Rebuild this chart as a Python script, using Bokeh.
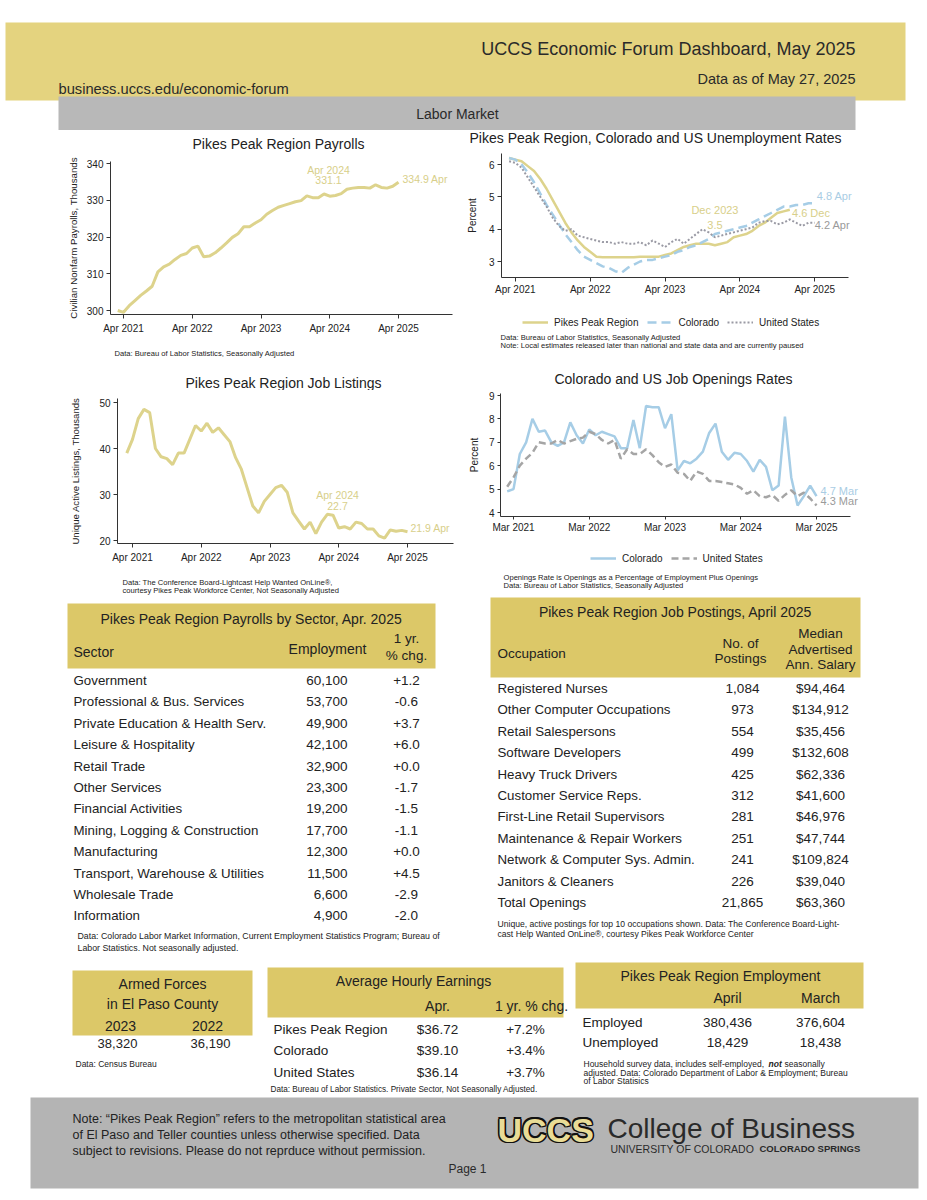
from bokeh.plotting import figure
from bokeh.models import Range1d, Label, Legend, LegendItem, FixedTicker, ColumnDataSource
from bokeh.layouts import column, row
from bokeh.embed import file_html
from bokeh.resources import INLINE
from bokeh.core.properties import value

FONT = "Liberation Sans"
INK = "#222222"
YEL_LINE = "#ddd38c"
YEL_TXT = "#d8cf8a"
BLUE_LINE = "#a6cde6"
BLUE_TXT = "#a9cde4"
GRAY_DOT = "#9a9aa4"
GRAY_DASH = "#a5a5a5"
GRAY_TXT = "#9a9a9a"
BAND = "#e4d37f"
HEAD = "#dcc868"
GRAYBAR = "#b8b8b8"
FOOT = "#b4b4b4"

MONTHS = ["Jan", "Feb", "Mar", "Apr", "May", "Jun", "Jul", "Aug", "Sep", "Oct", "Nov", "Dec"]


def midx(lbl):
    mo, yr = lbl.split()
    return (int(yr) - 2021) * 12 + MONTHS.index(mo)


# ---------------- data ----------------
payroll_start = "Mar 2021"
payroll = [300.0, 299.5, 301.3, 302.7, 304.1, 305.3, 306.6, 310.5, 311.9, 312.6,
           313.9, 315.0, 315.5, 317.0, 317.5, 314.6, 314.8, 315.7, 317.0, 318.4,
           319.9, 320.9, 322.8, 322.8, 323.8, 324.7, 326.2, 327.2, 328.1, 328.6,
           329.1, 329.6, 329.9, 331.2, 330.7, 330.7, 331.7, 331.1, 331.3, 331.8,
           333.0, 333.3, 333.5, 333.5, 333.3, 334.2, 333.5, 333.3, 333.8, 334.9]
payroll_ticks = ["Apr 2021", "Apr 2022", "Apr 2023", "Apr 2024", "Apr 2025"]
payroll_yticks = [300, 310, 320, 330, 340]

unemp_start = "Mar 2021"
unemp_pp = [6.2, 6.15, 6.1, 5.95, 5.8, 5.55, 5.25, 4.9, 4.55, 4.2, 3.9, 3.65, 3.45, 3.3,
            3.15, 3.13, 3.13, 3.13, 3.13, 3.13, 3.13, 3.15, 3.15, 3.15, 3.15, 3.2, 3.25,
            3.35, 3.45, 3.5, 3.55, 3.55, 3.55, 3.5, 3.55, 3.6, 3.75, 3.8, 3.85, 3.95,
            4.1, 4.2, 4.35, 4.5, 4.55, 4.6]
unemp_co = [6.2, 6.15, 6.0, 5.75, 5.45, 5.1, 4.75, 4.45, 4.15, 3.85, 3.6, 3.35, 3.15,
            3.05, 2.95, 2.85, 2.8, 2.7, 2.65, 2.8, 2.9, 3.0, 3.05, 3.05, 3.1, 3.15, 3.2,
            3.3, 3.35, 3.45, 3.5, 3.6, 3.7, 3.85, 3.9, 3.95, 4.0, 4.05, 4.1, 4.2, 4.3,
            4.4, 4.5, 4.6, 4.7, 4.7, 4.75, 4.75, 4.8, 4.8]
unemp_us = [6.1, 6.05, 5.9, 5.6, 5.3, 5.0, 4.7, 4.35, 4.1, 3.95, 4.0, 3.8, 3.75, 3.7,
            3.65, 3.6, 3.6, 3.55, 3.6, 3.55, 3.55, 3.6, 3.5, 3.65, 3.55, 3.45, 3.6, 3.7,
            3.55, 3.7, 3.85, 4.0, 3.9, 3.75, 3.8, 3.85, 3.9, 3.95, 4.0, 4.05, 4.2, 4.25,
            4.25, 4.15, 4.2, 4.3, 4.2, 4.1, 4.2, 4.2]
unemp_ticks = ["Apr 2021", "Apr 2022", "Apr 2023", "Apr 2024", "Apr 2025"]
unemp_yticks = [3, 4, 5, 6]
unemp_names = ["Pikes Peak Region", "Colorado", "United States"]

listings_start = "Mar 2021"
listings = [39.0, 42.0, 46.5, 48.5, 47.8, 40.0, 38.2, 37.8, 36.5, 39.0, 39.0, 42.0,
            45.0, 43.8, 45.5, 43.5, 44.5, 43.0, 41.5, 38.0, 35.5, 31.5, 27.5, 26.0,
            28.5, 30.0, 31.5, 32.0, 30.5, 26.0, 24.2, 22.5, 24.0, 21.5, 24.0, 25.7,
            25.5, 22.7, 23.0, 22.5, 24.0, 23.7, 22.5, 22.5, 21.0, 20.5, 22.3, 22.0,
            22.2, 21.9]
listings_ticks = ["Apr 2021", "Apr 2022", "Apr 2023", "Apr 2024", "Apr 2025"]
listings_yticks = [20, 30, 40, 50]

openings_start = "Feb 2021"
open_co = [4.9, 5.0, 6.5, 7.0, 8.0, 7.45, 7.5, 7.0, 6.85, 7.0, 7.85, 7.3, 6.95, 7.55,
           7.3, 7.45, 7.35, 7.25, 6.75, 6.75, 7.95, 6.75, 8.55, 8.5, 8.5, 7.6, 8.2, 5.8,
           6.2, 6.1, 6.3, 6.6, 7.4, 7.8, 6.6, 6.25, 6.55, 6.5, 6.2, 5.75, 6.25, 5.95,
           4.95, 5.15, 8.1, 5.5, 4.3, 4.7, 5.15, 4.7]
open_us = [5.1, 5.5, 6.0, 6.3, 6.55, 7.0, 6.95, 6.95, 7.1, 6.95, 7.05, 7.15, 7.2, 7.45,
           7.35, 7.1, 6.95, 7.1, 6.3, 6.7, 6.5, 6.5, 6.7, 6.45, 6.15, 5.95, 6.05, 5.7,
           5.65, 5.35, 5.75, 5.65, 5.35, 5.35, 5.3, 5.25, 5.2, 5.05, 4.8, 4.95, 4.7,
           4.65, 4.75, 4.5, 4.75, 4.95, 4.7, 4.85, 4.6, 4.3]
openings_ticks = ["Mar 2021", "Mar 2022", "Mar 2023", "Mar 2024", "Mar 2025"]
openings_yticks = [4, 5, 6, 7, 8, 9]
openings_names = ["Colorado", "United States"]

sectors = ["Government", "Professional & Bus. Services", "Private Education & Health Serv.",
           "Leisure & Hospitality", "Retail Trade", "Other Services", "Financial Activities",
           "Mining, Logging & Construction", "Manufacturing", "Transport, Warehouse & Utilities",
           "Wholesale Trade", "Information"]
sector_emp = [60100, 53700, 49900, 42100, 32900, 23300, 19200, 17700, 12300, 11500, 6600, 4900]
sector_chg = [1.2, -0.6, 3.7, 6.0, 0.0, -1.7, -1.5, -1.1, 0.0, 4.5, -2.9, -2.0]

occupations = ["Registered Nurses", "Other Computer Occupations", "Retail Salespersons",
               "Software Developers", "Heavy Truck Drivers", "Customer Service Reps.",
               "First-Line Retail Supervisors", "Maintenance & Repair Workers",
               "Network & Computer Sys. Admin.", "Janitors & Cleaners", "Total Openings"]
postings = [1084, 973, 554, 499, 425, 312, 281, 251, 241, 226, 21865]
salary = [94464, 134912, 35456, 132608, 62336, 41600, 46976, 47744, 109824, 39040, 63360]

armed_years = ["2023", "2022"]
armed_vals = [38320, 36190]

earn_regions = ["Pikes Peak Region", "Colorado", "United States"]
earn_apr = [36.72, 39.10, 36.14]
earn_chg = [7.2, 3.4, 3.7]

emp_months = ["April", "March"]
emp_rows = ["Employed", "Unemployed"]
emp_april = [380436, 18429]
emp_march = [376604, 18438]


# ---------------- helpers ----------------
class Chart:
    """Plot figure; geometry given in page pixels. The frame reaches the figure's right edge
    so that end labels are not clipped; the x axis is bounded to the plotted region."""

    def __init__(self, fig_l, fig_t, w, h, fl, ft, fb, axis_r, xcal, ycal):
        (xa, pxa), (xb, pxb) = xcal
        (ya, pya), (yb, pyb) = ycal
        self.fx = lambda px: xa + (px - pxa) * (xb - xa) / (pxb - pxa)
        self.fy = lambda py: ya + (py - pya) * (yb - ya) / (pyb - pya)
        fr = fig_l + w - 1
        p = figure(width=w, height=h,
                   x_range=Range1d(self.fx(fl), self.fx(fr)),
                   y_range=Range1d(self.fy(fb), self.fy(ft)),
                   output_backend="svg", toolbar_location=None, tools="", title=None)
        p.min_border_left = fl - fig_l
        p.min_border_right = 1
        p.min_border_top = ft - fig_t
        p.min_border_bottom = fig_t + h - fb
        p.outline_line_color = None
        p.xgrid.grid_line_color = None
        p.ygrid.grid_line_color = None
        p.background_fill_color = "white"
        p.border_fill_color = "white"
        self.xbounds = (self.fx(fl), self.fx(axis_r))
        self.p = p

    def axes(self, xticks, xlabels, yticks, ylabel, ylab_standoff, xlab_standoff, tick_out=4,
             ylab_size="10px"):
        p = self.p
        p.xaxis.ticker = FixedTicker(ticks=xticks)
        p.xaxis.major_label_overrides = {t: l for t, l in zip(xticks, xlabels)}
        p.yaxis.ticker = FixedTicker(ticks=yticks)
        p.xaxis.bounds = self.xbounds
        p.yaxis.axis_label = ylabel
        p.yaxis.axis_label_text_font = FONT
        p.yaxis.axis_label_text_font_size = ylab_size
        p.yaxis.axis_label_text_font_style = "normal"
        p.yaxis.axis_label_text_color = INK
        p.yaxis.axis_label_standoff = ylab_standoff
        p.xaxis.major_label_standoff = xlab_standoff
        p.yaxis.major_label_standoff = 3
        for ax in (p.xaxis[0], p.yaxis[0]):
            ax.axis_line_color = "#333333"
            ax.major_tick_line_color = "#333333"
            ax.minor_tick_line_color = None
            ax.major_tick_in = 0
            ax.major_tick_out = tick_out
            ax.major_label_text_font = FONT
            ax.major_label_text_font_size = "10px"
            ax.major_label_text_color = INK

    def label(self, px, py, text, size="10px", color=INK, align="left", style="normal"):
        self.p.add_layout(Label(x=self.fx(px), y=self.fy(py), text=text, text_font=FONT,
                                text_font_size=size, text_color=color, text_align=align,
                                text_baseline="middle", text_font_style=style))


def series_x(start, n):
    s = midx(start)
    return list(range(s, s + n))


def txt(p, xs, ys, texts, size="13.5px", align="left", style="normal", color=INK,
        font=FONT, xoff=0, yoff=0):
    src = ColumnDataSource(dict(x=xs, y=ys, t=texts))
    p.text(x="x", y="y", text="t", source=src, text_font=value(font), text_font_size=size,
           text_align=align, text_baseline="middle", text_font_style=style,
           text_color=color, x_offset=xoff, y_offset=yoff)


def page_fig(left, top, w, h):
    p = figure(width=w, height=h, x_range=Range1d(left, left + w), y_range=Range1d(top + h, top),
               x_axis_type=None, y_axis_type=None, output_backend="svg",
               toolbar_location=None, tools="", title=None, min_border=0)
    p.outline_line_color = None
    p.background_fill_color = "white"
    p.border_fill_color = "white"
    return p


def legend_fig(p, entries, left_px, bottom_px):
    """Legend in a text panel; keys are invisible proxy renderers styled like the series."""
    nan = float("nan")
    items = []
    for label, kw in entries:
        r = p.line(x=[nan, nan], y=[nan, nan], **kw)
        items.append(LegendItem(label=label, renderers=[r]))
    lg = Legend(items=items, orientation="horizontal", location=(left_px, bottom_px))
    lg.label_text_font = FONT
    lg.label_text_font_size = "10px"
    lg.label_text_color = INK
    lg.glyph_width = 26
    lg.glyph_height = 12
    lg.label_height = 12
    lg.label_standoff = 6
    lg.spacing = 8
    lg.padding = 0
    lg.margin = 0
    lg.border_line_color = None
    lg.background_fill_alpha = 0
    p.add_layout(lg)


NOTE = "7.6px"

# ---------------- header ----------------
hdr = page_fig(0, 0, 919, 130)
hdr.quad(left=[5], right=[905], top=[22], bottom=[100], fill_color=BAND, line_color=None)
hdr.quad(left=[58], right=[855], top=[96], bottom=[130], fill_color=GRAYBAR, line_color=None)
txt(hdr, [855], [48], ["UCCS Economic Forum Dashboard, May 2025"], size="18px", align="right", color="#2a2a2a")
txt(hdr, [855], [78], ["Data as of May 27, 2025"], size="14.5px", align="right", color="#2a2a2a")
txt(hdr, [58], [88], ["business.uccs.edu/economic-forum"], size="14.7px", color="#2a2a2a")
txt(hdr, [457], [113], ["Labor Market"], size="14px", align="center", color="#2a2a2a")

# ---------------- chart 1: payrolls ----------------
t1 = page_fig(0, 130, 463, 22)
txt(t1, [278], [143], ["Pikes Peak Region Payrolls"], size="14px", align="center")
c1 = Chart(0, 152, 463, 184, 110, 161, 314, 452,
           ((3, 123), (51, 398)), ((300, 310), (340, 163)))
c1.p.line(series_x(payroll_start, len(payroll)), payroll, line_color=YEL_LINE, line_width=3)
c1.axes([midx(t) for t in payroll_ticks], payroll_ticks, payroll_yticks,
        "Civilian Nonfarm Payrolls, Thousands", 5, 4, ylab_size="9.7px")
c1.label(328, 169.5, "Apr 2024", size="10.5px", color=YEL_TXT, align="center")
c1.label(328, 179.5, f"{payroll[37]:.1f}", size="10.5px", color=YEL_TXT, align="center")
c1.label(402, 178, f"{payroll[-1]:.1f} Apr", size="10.5px", color=YEL_TXT)
n1 = page_fig(0, 336, 463, 29)
txt(n1, [114], [353], ["Data: Bureau of Labor Statistics, Seasonally Adjusted"], size=NOTE)

# ---------------- chart 2: unemployment ----------------
t2 = page_fig(463, 130, 456, 16)
txt(t2, [655], [137.5], ["Pikes Peak Region, Colorado and US Unemployment Rates"], size="14px", align="center")
c2 = Chart(463, 146, 456, 153, 496, 153, 277, 847,
           ((3, 510), (51, 813)), ((6, 164), (3, 261)))
sty_pp = dict(line_color=YEL_LINE, line_width=2.5)
sty_co = dict(line_color=BLUE_LINE, line_width=2.5, line_dash="9 5")
sty_us = dict(line_color=GRAY_DOT, line_width=2, line_dash="2 2")
c2.p.line(series_x(unemp_start, len(unemp_pp)), unemp_pp, **sty_pp)
c2.p.line(series_x(unemp_start, len(unemp_co)), unemp_co, **sty_co)
c2.p.line(series_x(unemp_start, len(unemp_us)), unemp_us, **sty_us)
c2.axes([midx(t) for t in unemp_ticks], unemp_ticks, unemp_yticks, "Percent", 8, 2)
c2.label(712, 209, "Dec 2023", size="11px", color=YEL_TXT, align="center")
c2.label(712, 224, f"{unemp_pp[33]:.1f}", size="11px", color=YEL_TXT, align="center")
c2.label(815, 195, f"{unemp_co[-1]:.1f} Apr", size="11px", color=BLUE_TXT)
c2.label(790, 212, f"{unemp_pp[-1]:.1f} Dec", size="11px", color=YEL_TXT)
c2.label(813, 224, f"{unemp_us[-1]:.1f} Apr", size="11px", color=GRAY_TXT)
n2 = page_fig(463, 299, 456, 66)
legend_fig(n2, list(zip(unemp_names, [sty_pp, sty_co, sty_us])), 522 - 463, 365 - 328)
txt(n2, [500, 500], [337, 345],
    ["Data: Bureau of Labor Statistics, Seasonally Adjusted",
     "Note: Local estimates released later than national and state data and are currently paused"],
    size=NOTE)

# ---------------- chart 3: job listings ----------------
t3 = page_fig(0, 365, 463, 25)
txt(t3, [283], [382], ["Pikes Peak Region Job Listings"], size="14px", align="center")
c3 = Chart(0, 390, 463, 175, 117, 398, 543, 453,
           ((3, 132), (51, 407)), ((50, 402), (20, 540)))
c3.p.line(series_x(listings_start, len(listings)), listings, line_color=YEL_LINE, line_width=3)
c3.axes([midx(t) for t in listings_ticks], listings_ticks, listings_yticks,
        "Unique Active Listings, Thousands", 15, 4, ylab_size="9.6px")
c3.label(337, 494, "Apr 2024", size="10.5px", color=YEL_TXT, align="center")
c3.label(337, 505, f"{listings[37]:.1f}", size="10.5px", color=YEL_TXT, align="center")
c3.label(410, 527, f"{listings[-1]:.1f} Apr", size="10.5px", color=YEL_TXT)
n3 = page_fig(0, 565, 463, 30)
txt(n3, [122, 122], [582, 590],
    ["Data: The Conference Board-Lightcast Help Wanted OnLine®,",
     "courtesy Pikes Peak Workforce Center, Not Seasonally Adjusted"], size=NOTE)

# ---------------- chart 4: job openings ----------------
t4 = page_fig(463, 365, 456, 22)
txt(t4, [673], [378], ["Colorado and US Job Openings Rates"], size="14px", align="center")
c4 = Chart(463, 387, 456, 151, 500, 393, 516, 850,
           ((2, 513), (50, 816)), ((9, 395), (4, 512)))
sty_oco = dict(line_color=BLUE_LINE, line_width=2.5)
sty_ous = dict(line_color=GRAY_DASH, line_width=2.5, line_dash="7 4")
c4.p.line(series_x(openings_start, len(open_co)), open_co, **sty_oco)
c4.p.line(series_x(openings_start, len(open_us)), open_us, **sty_ous)
c4.axes([midx(t) for t in openings_ticks], openings_ticks, openings_yticks, "Percent", 6, 2, tick_out=3)
c4.label(820, 490, f"{open_co[-1]:.1f} Mar", size="11px", color=BLUE_TXT)
c4.label(820, 500, f"{open_us[-1]:.1f} Mar", size="11px", color=GRAY_TXT)
n4 = page_fig(463, 538, 456, 57)
legend_fig(n4, list(zip(openings_names, [sty_oco, sty_ous])), 590 - 463, 595 - 564)
txt(n4, [503, 503], [577, 585],
    ["Openings Rate is Openings as a Percentage of Employment Plus Openings",
     "Data: Bureau of Labor Statistics, Seasonally Adjusted"], size=NOTE)

# ---------------- bottom: tables & footer ----------------
bt = page_fig(0, 595, 919, 597)
ROW = 21.4
TNOTE = "8.8px"

# left table
bt.quad(left=[67], right=[435], top=[603], bottom=[668], fill_color=HEAD, line_color=None)
txt(bt, [251], [618], ["Pikes Peak Region Payrolls by Sector, Apr. 2025"], size="14px", align="center")
txt(bt, [73], [651], ["Sector"], size="14px")
txt(bt, [327], [648], ["Employment"], size="14px", align="center")
txt(bt, [406, 406], [638, 655], ["1 yr.", "% chg."], size="13.5px", align="center")
ys = [680 + i * ROW for i in range(len(sectors))]
txt(bt, [73] * len(sectors), ys, sectors, size="13.3px")
txt(bt, [347] * len(sectors), ys, [f"{v:,}" for v in sector_emp], size="13.5px", align="right")
txt(bt, [406] * len(sectors), ys, [f"{v:+.1f}" for v in sector_chg], size="13.5px", align="center")
txt(bt, [77, 77], [935, 947],
    ["Data: Colorado Labor Market Information, Current Employment Statistics Program; Bureau of",
     "Labor Statistics.  Not seasonally adjusted."], size=TNOTE)

# right table
bt.quad(left=[490], right=[860], top=[597], bottom=[677], fill_color=HEAD, line_color=None)
txt(bt, [675], [611], ["Pikes Peak Region Job Postings, April 2025"], size="14px", align="center")
txt(bt, [497], [653], ["Occupation"], size="13.5px")
txt(bt, [740, 740], [643, 658], ["No. of", "Postings"], size="13.5px", align="center")
txt(bt, [820, 820, 820], [633, 649, 664], ["Median", "Advertised", "Ann. Salary"], size="13.5px", align="center")
ys = [688 + i * ROW for i in range(len(occupations))]
txt(bt, [497] * len(occupations), ys, occupations, size="13.3px")
txt(bt, [742] * len(occupations), ys, [f"{v:,}" for v in postings], size="13.5px", align="center")
txt(bt, [820] * len(occupations), ys, [f"${v:,}" for v in salary], size="13.5px", align="center")
txt(bt, [497, 497], [923, 933],
    ["Unique, active postings for top 10 occupations shown. Data: The Conference Board-Light-",
     "cast Help Wanted OnLine®, courtesy Pikes Peak Workforce Center"], size="8.6px")

# armed forces
bt.quad(left=[72], right=[252], top=[970], bottom=[1035], fill_color=HEAD, line_color=None)
txt(bt, [162, 162], [983, 1003], ["Armed Forces", "in El Paso County"], size="14px", align="center")
txt(bt, [120, 207], [1025, 1025], armed_years, size="14px", align="center")
txt(bt, [117, 210], [1043, 1043], [f"{v:,}" for v in armed_vals], size="13px", align="center")
txt(bt, [75], [1063], ["Data: Census Bureau"], size="8.5px")

# average hourly earnings
bt.quad(left=[267], right=[563], top=[967], bottom=[1017], fill_color=HEAD, line_color=None)
txt(bt, [413], [980], ["Average Hourly Earnings"], size="14px", align="center")
txt(bt, [437, 531], [1005, 1005], ["Apr.", "1 yr. % chg."], size="14px", align="center")
ys = [1029, 1050, 1072]
txt(bt, [273] * 3, ys, earn_regions, size="13.5px")
txt(bt, [437] * 3, ys, [f"${v:.2f}" for v in earn_apr], size="13.5px", align="center")
txt(bt, [525] * 3, ys, [f"{v:+.1f}%" for v in earn_chg], size="13.5px", align="center")
txt(bt, [270], [1089], ["Data: Bureau of Labor Statistics.  Private Sector, Not Seasonally Adjusted."], size="8.2px")

# employment
bt.quad(left=[575], right=[863], top=[962], bottom=[1008], fill_color=HEAD, line_color=None)
txt(bt, [720], [975], ["Pikes Peak Region Employment"], size="14px", align="center")
txt(bt, [727, 820], [997, 997], emp_months, size="14px", align="center")
txt(bt, [582, 582], [1022, 1042], emp_rows, size="13.5px")
txt(bt, [727, 727], [1022, 1042], [f"{v:,}" for v in emp_april], size="13.5px", align="center")
txt(bt, [820, 820], [1022, 1042], [f"{v:,}" for v in emp_march], size="13.5px", align="center")
txt(bt, [583], [1063], ["Household survey data, includes self-employed,"], size="8.5px")
txt(bt, [768], [1063], ["not"], size="8.5px", style="bold italic")
txt(bt, [784], [1063], ["seasonally"], size="8.5px")
txt(bt, [583, 583], [1072, 1080],
    ["adjusted. Data: Colorado Department of Labor & Employment; Bureau", "of Labor Statisics"], size="8.5px")

# footer
bt.quad(left=[30], right=[918], top=[1097], bottom=[1188], fill_color=FOOT, line_color=None)
txt(bt, [72] * 3, [1118, 1134, 1150],
    ["Note: \u201cPikes Peak Region\u201d refers to the metropolitan statistical area",
     "of El Paso and Teller counties unless otherwise specified.  Data",
     "subject to revisions.  Please do not reprduce without permission."], size="12.5px")
for dx, dy in [(-1.5, 0), (1.5, 0), (0, -1.5), (0, 1.5), (-1.2, -1.2), (1.2, 1.2), (-1.2, 1.2), (1.2, -1.2)]:
    txt(bt, [497], [1129], ["UCCS"], size="34px", style="bold", color="#111111", xoff=dx, yoff=dy)
txt(bt, [497], [1129], ["UCCS"], size="34px", style="bold", color="#e9dc96")
txt(bt, [607], [1128], ["College of Business"], size="28px", color="#2a2a2a")
txt(bt, [610], [1148], ["UNIVERSITY OF COLORADO"], size="10.5px", color="#2a2a2a")
txt(bt, [759], [1148], ["COLORADO SPRINGS"], size="9.5px", style="bold", color="#2a2a2a")
txt(bt, [467], [1168], ["Page 1"], size="12px", align="center", color="#2a2a2a")

layout = column(
    hdr,
    row(column(row(t1), c1.p, row(n1)), column(row(t2), c2.p, row(n2))),
    row(column(row(t3), c3.p, row(n3)), column(row(t4), c4.p, row(n4))),
    bt,
)
open("out.html", "w").write(file_html(layout, INLINE))
